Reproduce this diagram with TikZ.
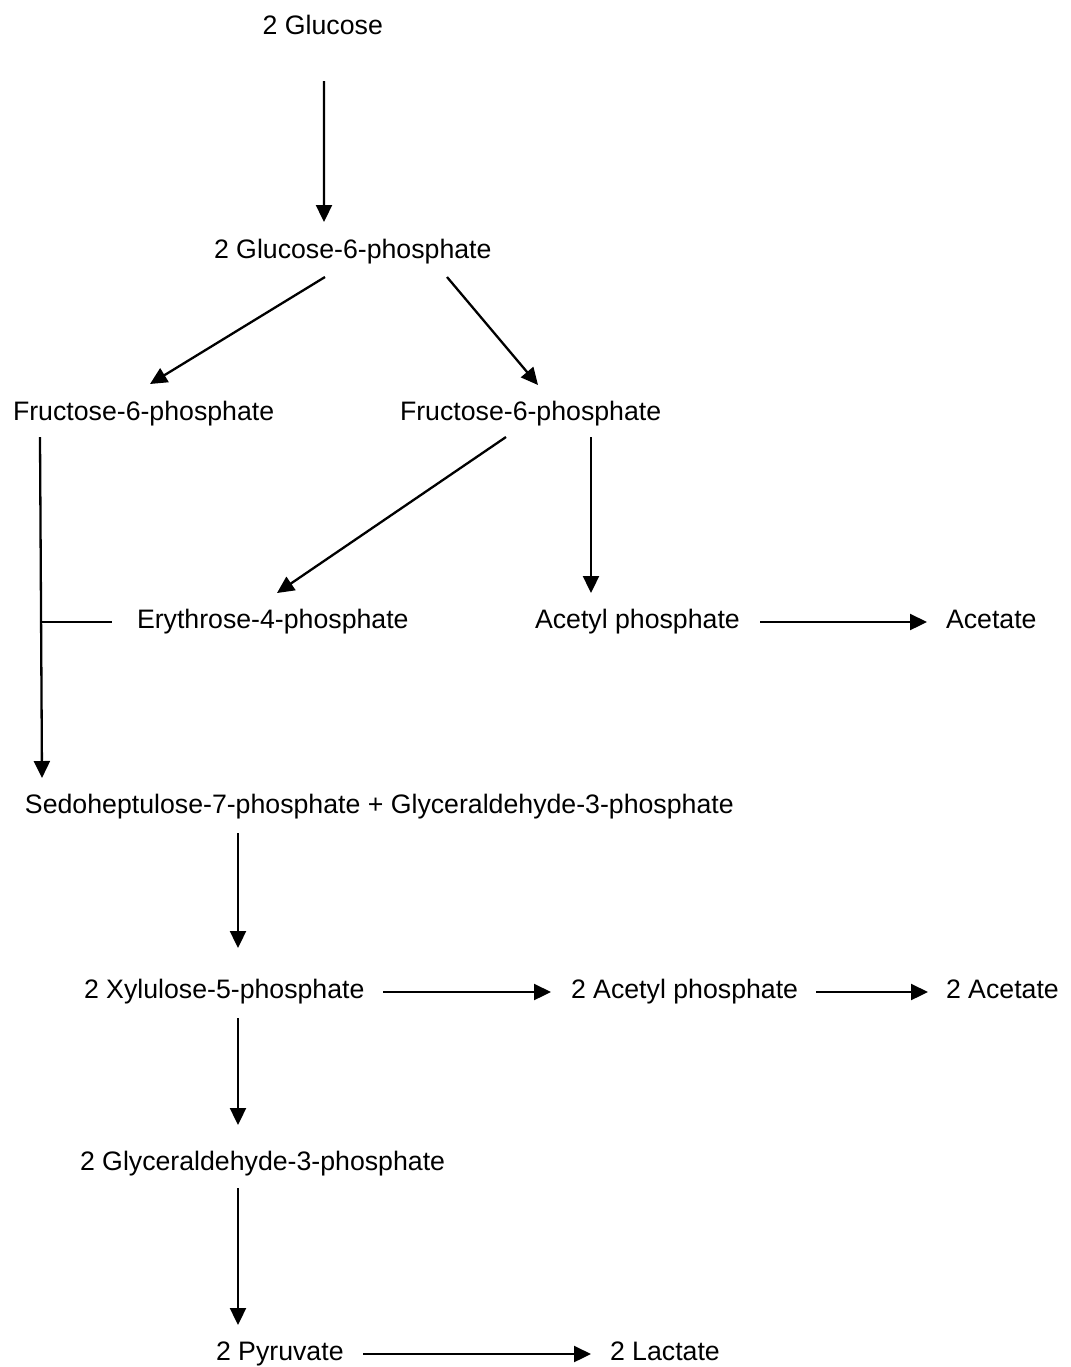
\documentclass[tikz,border=0pt]{standalone}
\usepackage{fontspec}
\setmainfont{Liberation Sans}
\usetikzlibrary{arrows.meta}
\tikzset{
  lbl/.style={inner sep=0pt, outer sep=0pt, anchor=base west, font=\fontsize{13.35pt}{16pt}\selectfont},
  conn/.style={line width=1.15pt},
  arr/.style={conn, -{Triangle[length=8.5pt,width=8pt]}}
}
\begin{document}
\begin{tikzpicture}[x=0.5pt,y=-0.5pt]
\useasboundingbox[fill=white] (0,0) rectangle (1071,1367);
% nodes
\node[lbl] (glc)  at (262.7,34)  {2 Glucose};
\node[lbl] (g6p)  at (214,258)   {2 Glucose-6-phosphate};
\node[lbl] (f6pl) at (13,420)    {Fructose-6-phosphate};
\node[lbl] (f6pr) at (400,420)   {Fructose-6-phosphate};
\node[lbl] (e4p)  at (137,628)   {Erythrose-4-phosphate};
\node[lbl] (acp)  at (535,628)   {Acetyl phosphate};
\node[lbl] (ace)  at (946,628)   {Acetate};
\node[lbl] (sedo) at (25,813)    {Sedoheptulose-7-phosphate + Glyceraldehyde-3-phosphate};
\node[lbl] (x5p)  at (84,998)    {2 Xylulose-5-phosphate};
\node[lbl] (acp2) at (571,998)   {2 Acetyl phosphate};
\node[lbl] (ace2) at (946,998)   {2 Acetate};
\node[lbl] (gap)  at (80,1170)   {2 Glyceraldehyde-3-phosphate};
\node[lbl] (pyr)  at (216,1360)  {2 Pyruvate};
\node[lbl] (lac)  at (610,1360)  {2 Lactate};
\coordinate (junc) at ([shift={(-95,-6)}]e4p.base west);
% connectors
\draw[arr] ([shift={(61.3,47)}]glc.base west) -- ([shift={(110,-36)}]g6p.base west);
\draw[arr] ([shift={(111,19)}]g6p.base west) -- ([shift={(137,-36)}]f6pl.base west);
\draw[arr] ([shift={(233,19)}]g6p.base west) -- ([shift={(138,-35)}]f6pr.base west);
\draw[arr] ([shift={(27,17)}]f6pl.base west) -- ([shift={(17,-35)}]sedo.base west);
\draw[conn] (junc) -- ([shift={(-25,-6)}]e4p.base west);
\draw[arr] ([shift={(106,17)}]f6pr.base west) -- ([shift={(140,-35)}]e4p.base west);
\draw[arr] ([shift={(191,17)}]f6pr.base west) -- ([shift={(56,-35)}]acp.base west);
\draw[arr] ([shift={(225,-6)}]acp.base west) -- ([shift={(-19,-6)}]ace.base west);
\draw[arr] ([shift={(213,20)}]sedo.base west) -- ([shift={(154,-50)}]x5p.base west);
\draw[arr] ([shift={(299,-6)}]x5p.base west) -- ([shift={(-20,-6)}]acp2.base west);
\draw[arr] ([shift={(245,-6)}]acp2.base west) -- ([shift={(-18,-6)}]ace2.base west);
\draw[arr] ([shift={(154,20)}]x5p.base west) -- ([shift={(158,-45)}]gap.base west);
\draw[arr] ([shift={(158,18)}]gap.base west) -- ([shift={(22,-35)}]pyr.base west);
\draw[arr] ([shift={(147,-6)}]pyr.base west) -- ([shift={(-19,-6)}]lac.base west);
\end{tikzpicture}
\end{document}
